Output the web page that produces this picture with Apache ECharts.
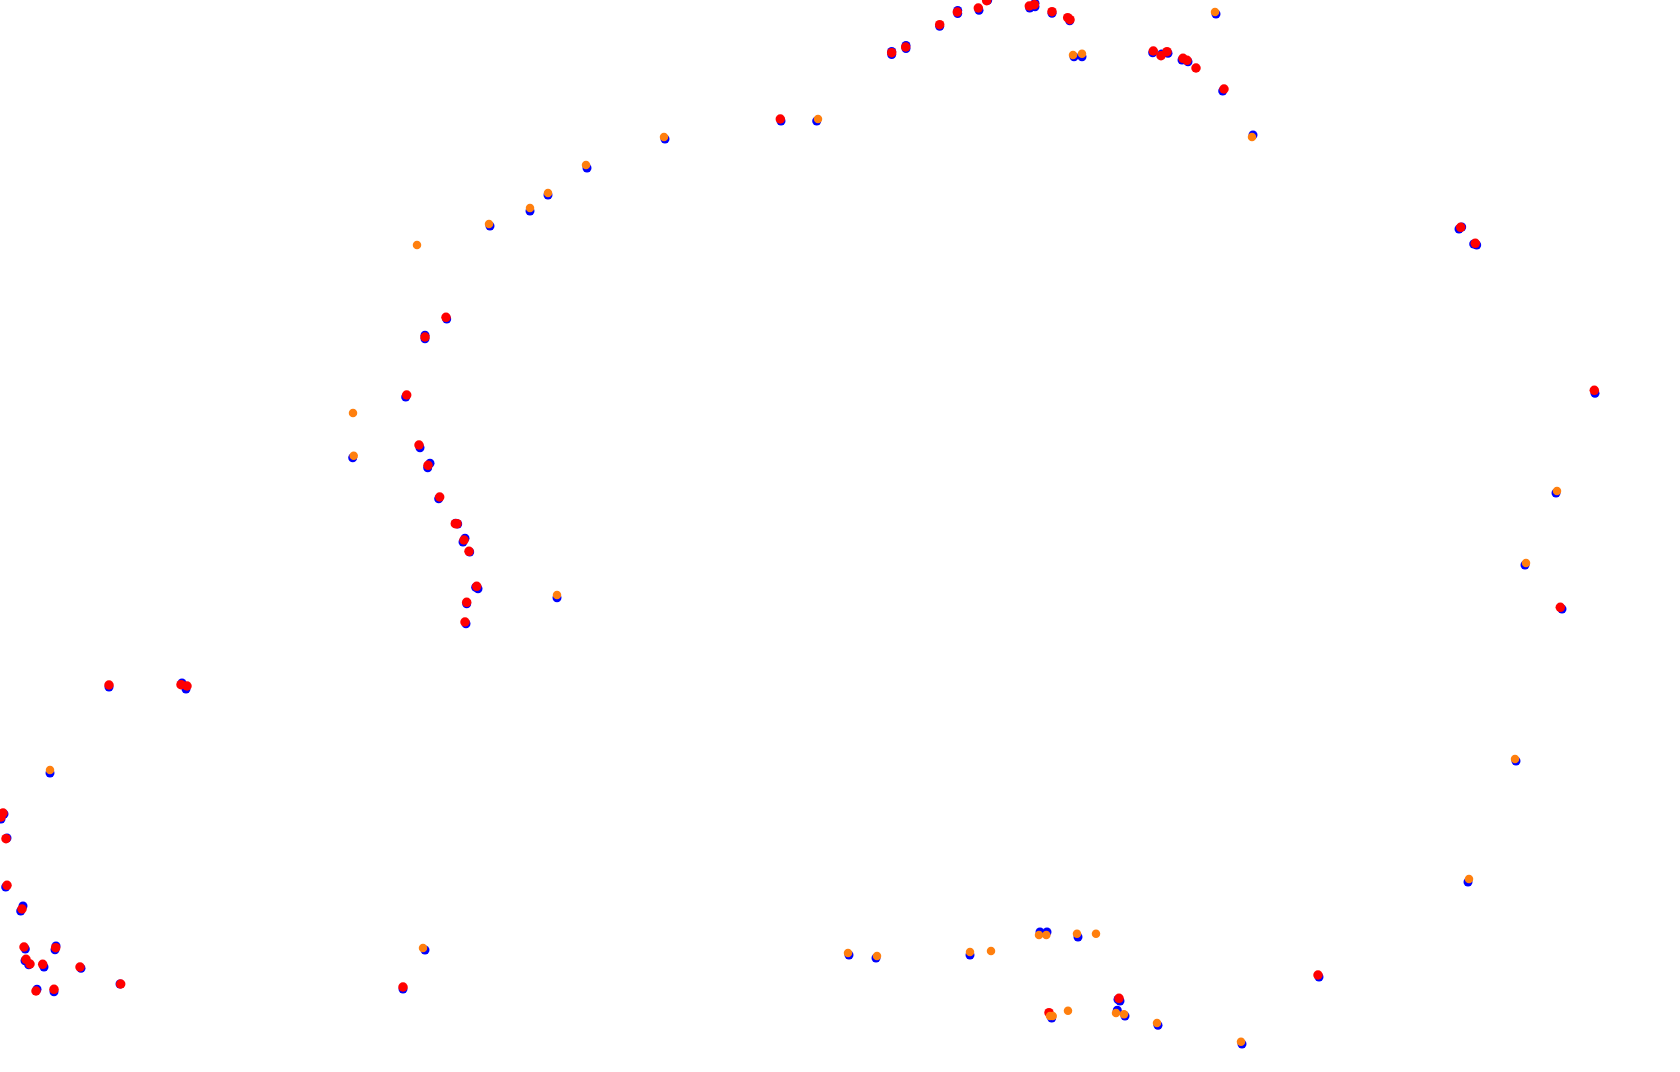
<!DOCTYPE html>
<html>
<head>
<meta charset="utf-8">
<style>html,body{margin:0;padding:0;background:#fff}#c{width:1680px;height:1072px}</style>
<script src="https://cdn.jsdelivr.net/npm/echarts@6/dist/echarts.min.js"></script>
</head>
<body>
<div id="c"></div>
<script>
const bluePoints = [
[50,773],[4,814],[1,819],[7,838],[5.7,887],[23,906],[20.7,911],[25.3,949],[56,946],[55,949.7],[25,960.7],[28.7,964.7],[44,967],[81,968.3],[120,984],[37,989.3],[54,991.7],
[891.7,51.5],[891.7,54.5],[906,45.5],[906,48.5],[939.7,26.3],[957.7,10.5],[957.7,13.5],[979,10.3],[987.7,0.3],[1029.7,8],[1035,3.3],[1035,6.7],[1052,13.3],[1069.7,20.7],[1074,56.7],[1082,56.7],[1152.7,52.7],[1168,53.3],[1161.7,54],[1182,60],[1188,61.7],[1222.7,91],[1216,14],
[1040,932],[1047,932],[1078,937],[1120,1001],[1118,999.5],[1051.7,1018],[1117.3,1010.3],[1125,1016],[1158,1025.3],[1242,1044],
[446.7,319],[425,335.3],[425,338.7],[405.7,397],[352.7,457.7],[420,447.7],[430,463.3],[427.7,467.7],[438.7,498.7],[455.7,523.3],[457.7,524],[465,538.3],[463,542],[469.7,552],[478,588.7],[475.7,587.3],[557,597.7],[466.7,603.7],[466,623.7],
[490,226],[530,211],[548,195],[587,168],[665,139],[781,121],[816.7,121],
[1253,135],[1461.7,227],[1459,229],[1473.7,244],[1476.7,245],[1595,393.3],
[1556,493],[1525,565],[1562,609],[1516,761],[1468,882],
[849,955],[876,958],[970,955],[425,950],[403,989],[109,687],[182,683],[186,689],[1319,977]
];
const redPoints = [
[3,813],[1,817],[6,838.7],[7,885.3],[22,909],[24,947],[55.7,947.7],[26,959.3],[30,964],[42.7,964.3],[80,967],[120.7,984],[36,991],[54,989.3],
[891.7,52.7],[905.7,47],[939.7,24.7],[957.3,12],[978.3,8],[986.7,0.7],[1029.3,6],[1034.3,4.7],[1052,11.7],[1067.7,17.7],[1070,19.7],[1153.3,51],[1167,51.7],[1161,55.7],[1183,58.3],[1187,60.3],[1196,68],[1224,89],
[1119,998.3],[1049,1012.7],
[446,317.3],[425,337],[406.7,395],[419,445],[428,465.3],[439.7,497],[455.3,523.7],[457,523.7],[464,540],[469,551.3],[476.7,586.3],[466.7,602.3],[465,622],
[780.3,119],[1460.7,227.3],[1475.3,243.3],[1594.3,390.3],[1560.3,607.3],[403,987],[109,685],[181,684.7],[187,686],[1318,975]
];
const orangePoints = [
[50,770],[1073,55],[1082,53.7],[1215,12],
[1039,935],[1046.3,935],[1077,933.7],[1096,933.7],[1052.7,1016],[1050,1016],[1068,1010.7],[1116,1013],[1124,1014.3],[1157,1023],[1241,1041.7],
[353,413],[353.7,455.7],[557,595],
[417,245],[489,224],[530,208],[548,193],[586,165],[664,137],[818,119],
[1252,137],[1557,491],[1526,563],[1515,759],[1469,879],
[848,953],[877,956],[970,952],[991,951],[423,948]
];
const chart = echarts.init(document.getElementById('c'), null, {width:1680, height:1072});
function layer(name, data, color, size, z){
  return {name, type:'scatter', data, symbol:'circle', symbolSize:size, z,
    itemStyle:{color, opacity:1}, emphasis:{disabled:true}, silent:true, clip:true, animation:false};
}
chart.setOption({
  animation:false,
  backgroundColor:'#ffffff',
  grid:{left:0,right:0,top:0,bottom:0,containLabel:false},
  xAxis:{type:'value',min:0,max:1680,show:false},
  yAxis:{type:'value',min:0,max:1072,inverse:true,show:false},
  series:[
    layer('blue', bluePoints, '#0000ff', 9, 2),
    layer('red', redPoints, '#ff0000', 9.5, 3),
    layer('orange', orangePoints, '#ff7f0e', 8.5, 4)
  ]
});
</script>
</body>
</html>
